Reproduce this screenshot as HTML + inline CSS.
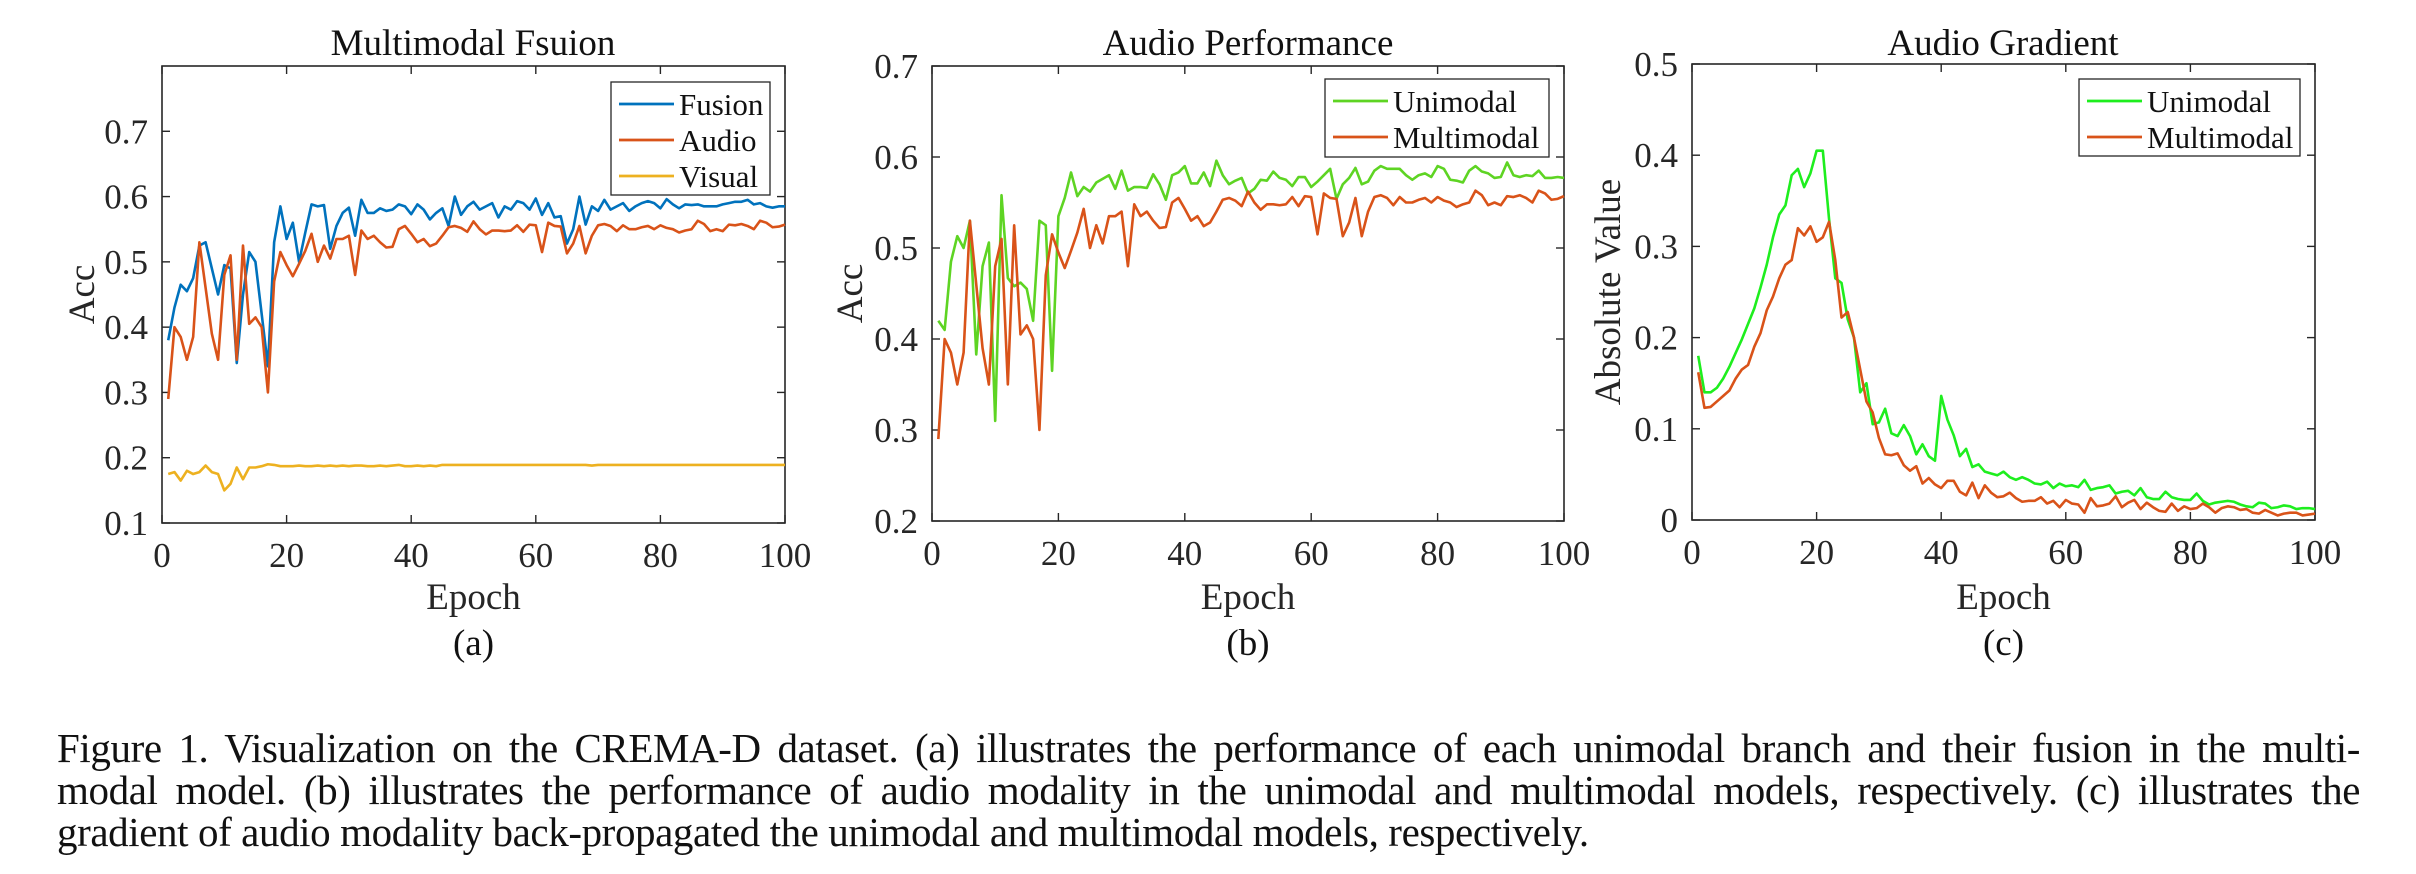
<!DOCTYPE html>
<html><head><meta charset="utf-8">
<style>
html,body{margin:0;padding:0;background:#fff;}
body{width:2416px;height:874px;overflow:hidden;position:relative;font-family:"Liberation Serif",serif;}
#caption{position:absolute;left:57px;top:727px;width:2303px;font-size:41px;line-height:42px;letter-spacing:-0.4px;color:#111;}
#caption div{white-space:nowrap;}
#caption .j{text-align:justify;text-align-last:justify;white-space:normal;}
</style></head><body>
<svg id="fig" width="2416" height="700" style="position:absolute;left:0;top:0" xmlns="http://www.w3.org/2000/svg"></svg>
<div id="caption">
<div class="j">Figure 1. Visualization on the CREMA-D dataset. (a) illustrates the performance of each unimodal branch and their fusion in the multi-</div>
<div class="j">modal model. (b) illustrates the performance of audio modality in the unimodal and multimodal models, respectively. (c) illustrates the</div>
<div>gradient of audio modality back-propagated the unimodal and multimodal models, respectively.</div>
</div>
<script>
const xTicks=[0,20,40,60,80,100];
const yTicksA=[0.1,0.2,0.3,0.4,0.5,0.6,0.7];
const yTicksB=[0.2,0.3,0.4,0.5,0.6,0.7];
const yTicksC=[0,0.1,0.2,0.3,0.4,0.5];
const fusionA=[0.38,0.43,0.465,0.455,0.475,0.525,0.53,0.49,0.45,0.495,0.49,0.345,0.45,0.515,0.50,0.42,0.34,0.53,0.585,0.535,0.56,0.50,0.545,0.588,0.585,0.587,0.52,0.555,0.575,0.583,0.54,0.595,0.575,0.575,0.582,0.578,0.58,0.588,0.585,0.573,0.588,0.58,0.565,0.575,0.582,0.555,0.60,0.572,0.585,0.592,0.58,0.585,0.59,0.568,0.585,0.58,0.593,0.59,0.58,0.597,0.572,0.59,0.568,0.57,0.528,0.55,0.60,0.557,0.585,0.578,0.595,0.58,0.585,0.59,0.578,0.585,0.59,0.593,0.59,0.582,0.596,0.588,0.582,0.588,0.587,0.588,0.585,0.585,0.585,0.588,0.59,0.592,0.592,0.595,0.588,0.59,0.585,0.583,0.585,0.585];
const audioA=[0.29,0.40,0.385,0.35,0.385,0.53,0.46,0.39,0.35,0.48,0.51,0.35,0.525,0.405,0.415,0.40,0.30,0.47,0.515,0.495,0.478,0.497,0.517,0.543,0.50,0.525,0.505,0.535,0.535,0.54,0.48,0.548,0.535,0.54,0.53,0.522,0.523,0.55,0.555,0.543,0.53,0.535,0.524,0.528,0.54,0.553,0.555,0.552,0.546,0.562,0.55,0.542,0.548,0.548,0.547,0.548,0.556,0.546,0.557,0.556,0.515,0.56,0.555,0.554,0.513,0.528,0.555,0.513,0.54,0.556,0.558,0.555,0.547,0.556,0.55,0.55,0.553,0.555,0.55,0.556,0.552,0.55,0.545,0.548,0.55,0.563,0.558,0.547,0.55,0.547,0.557,0.556,0.558,0.555,0.55,0.563,0.56,0.553,0.554,0.557];
const visualA=[0.175,0.178,0.165,0.18,0.175,0.178,0.188,0.178,0.175,0.15,0.16,0.185,0.167,0.185,0.185,0.187,0.19,0.189,0.187,0.187,0.187,0.188,0.187,0.187,0.188,0.187,0.188,0.187,0.188,0.187,0.188,0.188,0.187,0.187,0.188,0.187,0.188,0.189,0.187,0.187,0.188,0.187,0.188,0.187,0.189,0.189,0.189,0.189,0.189,0.189,0.189,0.189,0.189,0.189,0.189,0.189,0.189,0.189,0.189,0.189,0.189,0.189,0.189,0.189,0.189,0.189,0.189,0.189,0.188,0.189,0.189,0.189,0.189,0.189,0.189,0.189,0.189,0.189,0.189,0.189,0.189,0.189,0.189,0.189,0.189,0.189,0.189,0.189,0.189,0.189,0.189,0.189,0.189,0.189,0.189,0.189,0.189,0.189,0.189,0.189];
const uniB=[0.42,0.41,0.485,0.513,0.50,0.53,0.383,0.48,0.506,0.31,0.558,0.467,0.458,0.462,0.455,0.42,0.53,0.525,0.365,0.535,0.555,0.583,0.557,0.567,0.562,0.572,0.576,0.58,0.565,0.585,0.563,0.567,0.567,0.566,0.581,0.57,0.553,0.58,0.583,0.59,0.571,0.571,0.583,0.568,0.596,0.58,0.57,0.574,0.577,0.56,0.565,0.575,0.574,0.584,0.577,0.575,0.568,0.578,0.578,0.567,0.573,0.58,0.587,0.554,0.57,0.577,0.588,0.57,0.573,0.585,0.59,0.587,0.587,0.587,0.58,0.575,0.58,0.582,0.578,0.59,0.587,0.575,0.574,0.572,0.585,0.59,0.584,0.582,0.577,0.578,0.594,0.58,0.578,0.58,0.579,0.585,0.577,0.577,0.578,0.577];
const multiB=[0.29,0.40,0.385,0.35,0.385,0.53,0.46,0.39,0.35,0.48,0.51,0.35,0.525,0.405,0.415,0.40,0.30,0.47,0.515,0.495,0.478,0.497,0.517,0.543,0.50,0.525,0.505,0.535,0.535,0.54,0.48,0.548,0.535,0.54,0.53,0.522,0.523,0.55,0.555,0.543,0.53,0.535,0.524,0.528,0.54,0.553,0.555,0.552,0.546,0.562,0.55,0.542,0.548,0.548,0.547,0.548,0.556,0.546,0.557,0.556,0.515,0.56,0.555,0.554,0.513,0.528,0.555,0.513,0.54,0.556,0.558,0.555,0.547,0.556,0.55,0.55,0.553,0.555,0.55,0.556,0.552,0.55,0.545,0.548,0.55,0.563,0.558,0.547,0.55,0.547,0.557,0.556,0.558,0.555,0.55,0.563,0.56,0.553,0.554,0.557];
const uniC=[0.18,0.14,0.14,0.145,0.155,0.168,0.183,0.198,0.215,0.232,0.255,0.28,0.31,0.335,0.345,0.378,0.385,0.365,0.38,0.405,0.405,0.33,0.265,0.26,0.22,0.2,0.14,0.15,0.105,0.107,0.122,0.095,0.092,0.104,0.092,0.072,0.083,0.07,0.065,0.136,0.11,0.093,0.07,0.078,0.058,0.061,0.053,0.051,0.049,0.053,0.047,0.044,0.047,0.044,0.04,0.039,0.042,0.035,0.04,0.037,0.038,0.036,0.044,0.033,0.035,0.036,0.038,0.029,0.031,0.032,0.027,0.035,0.025,0.023,0.023,0.031,0.025,0.023,0.022,0.022,0.029,0.021,0.017,0.019,0.02,0.021,0.02,0.017,0.015,0.014,0.019,0.018,0.013,0.014,0.016,0.015,0.012,0.013,0.013,0.012];
const multiC=[0.162,0.123,0.124,0.13,0.136,0.142,0.155,0.165,0.17,0.19,0.205,0.23,0.245,0.265,0.28,0.285,0.32,0.312,0.322,0.305,0.31,0.327,0.285,0.222,0.228,0.2,0.165,0.13,0.118,0.09,0.072,0.071,0.073,0.06,0.054,0.059,0.04,0.046,0.039,0.035,0.043,0.043,0.031,0.027,0.041,0.024,0.038,0.03,0.025,0.026,0.03,0.024,0.02,0.021,0.021,0.025,0.018,0.021,0.014,0.022,0.018,0.017,0.008,0.024,0.015,0.016,0.018,0.026,0.014,0.019,0.022,0.012,0.019,0.014,0.01,0.009,0.018,0.01,0.015,0.012,0.013,0.018,0.014,0.008,0.013,0.015,0.014,0.011,0.012,0.008,0.007,0.011,0.008,0.005,0.007,0.008,0.008,0.005,0.006,0.007];

const NS="http://www.w3.org/2000/svg";
const svg=document.getElementById('fig');
function mk(tag,attrs,parent){const e=document.createElementNS(NS,tag);for(const k in attrs)e.setAttribute(k,attrs[k]);(parent||svg).appendChild(e);return e;}
function txt(s,attrs,parent){const e=mk('text',attrs,parent);e.textContent=s;return e;}

function chart(cfg){
  const g=mk('g',{});
  
  
  const L=cfg.L,R=cfg.R,T=cfg.T,B=cfg.B;
  const xs=v=>L+(v-0)/(100-0)*(R-L);
  const ys=v=>B-(v-cfg.ymin)/(cfg.ymax-cfg.ymin)*(B-T);
  const box=mk('rect',{x:L,y:T,width:R-L,height:B-T,fill:'#fff',stroke:'#262626','stroke-width':1.6},g);
  
  
  xTicks.forEach(t=>{
    const x=xs(t);
    mk('line',{x1:x,y1:B,x2:x,y2:B-8,stroke:'#262626','stroke-width':1.4},g);
    mk('line',{x1:x,y1:T,x2:x,y2:T+8,stroke:'#262626','stroke-width':1.4},g);
    const lb=txt(String(t),{x:x,y:B+44,'font-size':35,'text-anchor':'middle',fill:'#262626'},g);
    
    
  });
  cfg.yTicks.forEach(t=>{
    const y=ys(t);
    mk('line',{x1:L,y1:y,x2:L+8,y2:y,stroke:'#262626','stroke-width':1.4},g);
    mk('line',{x1:R,y1:y,x2:R-8,y2:y,stroke:'#262626','stroke-width':1.4},g);
    const s=(t===0)?'0':t.toFixed(1);
    const lb=txt(s,{x:L-14,y:y+12,'font-size':35,'text-anchor':'end',fill:'#262626'},g);
    
    
  });
  cfg.series.forEach(s=>{
    const d=s.data.map((v,i)=>(i?'L':'M')+xs(i+1).toFixed(2)+','+ys(v).toFixed(2)).join(' ');
    const p=mk('path',{d:d,fill:'none',stroke:s.color,'stroke-width':2.6,'stroke-linejoin':'round'},g);
    
    
  });
  const lg=mk('g',{},g);
  
  
  mk('rect',{x:cfg.lx,y:cfg.ly,width:cfg.lw,height:cfg.lh,fill:'#fff',stroke:'#262626','stroke-width':1.3},lg);
  cfg.series.forEach((s,i)=>{
    const y=cfg.ly+22+i*36;
    mk('line',{x1:cfg.lx+8,y1:y,x2:cfg.lx+63,y2:y,stroke:s.color,'stroke-width':2.8},lg);
    const t=txt(s.label,{x:cfg.lx+68,y:y+11,'font-size':31,fill:'#111'},lg);
    
    
  });
  const cx=(L+R)/2;
  const ti=txt(cfg.title,{x:cfg.tx,y:55,'font-size':37,'text-anchor':'middle',fill:'#111'},g);
  
  
  const xl=txt('Epoch',{x:cx,y:609,'font-size':37,'text-anchor':'middle',fill:'#262626'},g);
  
  
  const yl=txt(cfg.ylabel,{x:0,y:0,'font-size':37,'text-anchor':'middle',fill:'#262626',transform:'translate('+cfg.ylx+','+((T+B)/2)+') rotate(-90)'},g);
  
  
  const sub=txt(cfg.sub,{x:cx,y:655,'font-size':37,'text-anchor':'middle',fill:'#111'},g);
  
  
}

chart({name:'chart-multimodal-fusion',L:162,R:785,T:66,B:523,ymin:0.1,ymax:0.8,yTicks:yTicksA,title:'Multimodal Fsuion',tx:473,ylabel:'Acc',ylx:94,sub:'(a)',
  lx:611,ly:82,lw:159,lh:113,
  series:[{key:'fusion',label:'Fusion',color:'#0072BD',data:fusionA},{key:'audio',label:'Audio',color:'#D95319',data:audioA},{key:'visual',label:'Visual',color:'#EDB120',data:visualA}]});
chart({name:'chart-audio-performance',L:932,R:1564,T:66,B:521,ymin:0.2,ymax:0.7,yTicks:yTicksB,title:'Audio Performance',tx:1248,ylabel:'Acc',ylx:862,sub:'(b)',
  lx:1325,ly:79,lw:224,lh:78,
  series:[{key:'unimodal',label:'Unimodal',color:'#5ED423',data:uniB},{key:'multimodal',label:'Multimodal',color:'#D95319',data:multiB}]});
chart({name:'chart-audio-gradient',L:1692,R:2315,T:64,B:520,ymin:0,ymax:0.5,yTicks:yTicksC,title:'Audio Gradient',tx:2003,ylabel:'Absolute Value',ylx:1620,sub:'(c)',
  lx:2079,ly:79,lw:221,lh:77,
  series:[{key:'unimodal',label:'Unimodal',color:'#1EEE1E',data:uniC},{key:'multimodal',label:'Multimodal',color:'#D95319',data:multiC}]});
</script>
</body></html>
